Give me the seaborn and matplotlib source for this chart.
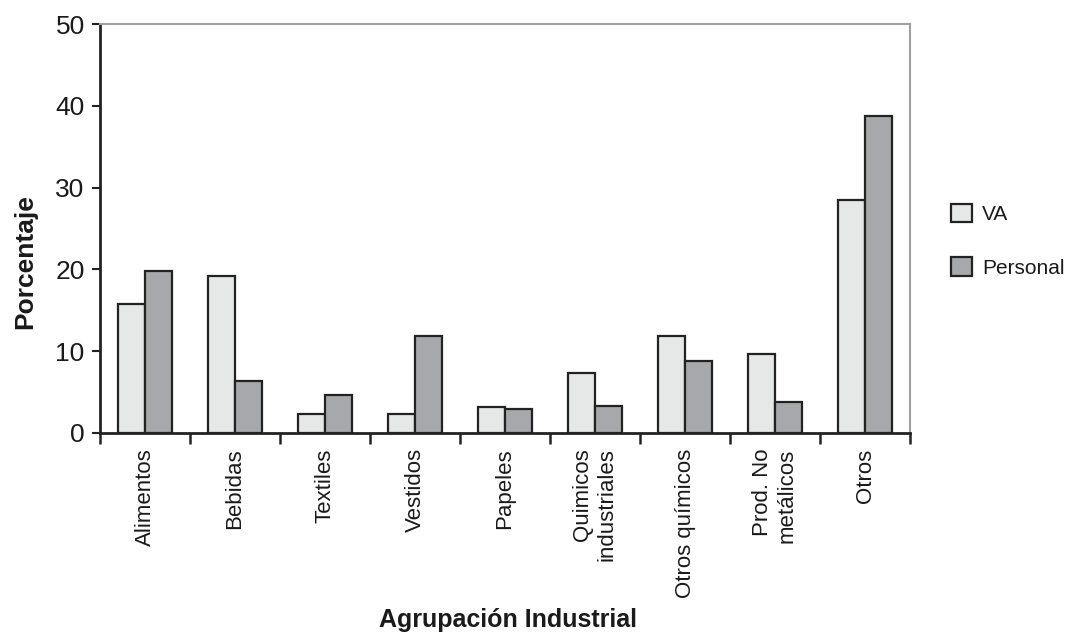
import matplotlib
matplotlib.use("Agg")
import matplotlib.pyplot as plt
import pandas as pd
import seaborn as sns

# Data
categorias = ["Alimentos", "Bebidas", "Textiles", "Vestidos", "Papeles",
              "Quimicos\nindustriales", "Otros químicos", "Prod. No\nmetálicos", "Otros"]
va = [15.8, 19.2, 2.35, 2.35, 3.2, 7.3, 11.9, 9.65, 28.5]
personal = [19.75, 6.4, 4.7, 11.9, 2.95, 3.25, 8.8, 3.8, 38.7]
series = ["VA", "Personal"]
colores = {"VA": "#e6e8e7", "Personal": "#a7a8ab"}

df = pd.DataFrame({
    "Agrupacion": categorias * 2,
    "Serie": ["VA"] * len(va) + ["Personal"] * len(personal),
    "Valor": va + personal,
})

sns.set_style("white")
plt.rcParams["font.family"] = ["Liberation Sans", "DejaVu Sans"]
plt.rcParams["text.color"] = "#1a1a1a"
plt.rcParams["xtick.color"] = "#1a1a1a"
plt.rcParams["ytick.color"] = "#1a1a1a"
plt.rcParams["axes.labelcolor"] = "#1a1a1a"

fig = plt.figure(figsize=(10.65, 6.37), dpi=100)
ax = fig.add_axes([100 / 1065, 1 - 433 / 637, 810 / 1065, 409 / 637])

sns.barplot(data=df, x="Agrupacion", y="Valor", hue="Serie", hue_order=series,
            palette=colores, edgecolor="#222222", linewidth=1.6, width=0.59,
            saturation=1, ax=ax)

ax.set_ylim(0, 50)
ax.set_xlim(-0.5, len(categorias) - 0.5)
ax.set_yticks([0, 10, 20, 30, 40, 50])
ax.tick_params(axis="y", direction="out", length=6, width=1.5, color="#222222",
               labelsize=19, pad=5, left=True)

ax.set_xticks(range(len(categorias)))
ax.set_xticklabels(categorias, rotation=90, ha="center", va="top", ma="right",
                   fontsize=16)
ax.tick_params(axis="x", which="major", length=0, pad=11)
ax.set_xticks([i - 0.5 for i in range(len(categorias) + 1)], minor=True)
ax.tick_params(axis="x", which="minor", direction="out", length=8, width=1.8,
               color="#222222", bottom=True)

for s in ["left", "bottom"]:
    ax.spines[s].set_color("#222222")
    ax.spines[s].set_linewidth(2)
for s in ["top", "right"]:
    ax.spines[s].set_color("#a0a0a0")
    ax.spines[s].set_linewidth(1.5)

ax.set_ylabel("")
ax.set_xlabel("")
fig.text(25 / 1065, 1 - 262 / 637, "Porcentaje", rotation=90,
         ha="center", va="center", fontsize=19, fontweight="bold")
fig.text(508 / 1065, 1 - 620 / 637, "Agrupación Industrial",
         ha="center", va="center", fontsize=18, fontweight="bold")

ax.legend(title=None, frameon=False, loc="center left",
          bbox_to_anchor=(1.04, 0.47), fontsize=15, handlelength=1.0,
          handleheight=1.0, labelspacing=1.6, handletextpad=0.5,
          borderaxespad=0)

fig.savefig("out.png", dpi=100)
